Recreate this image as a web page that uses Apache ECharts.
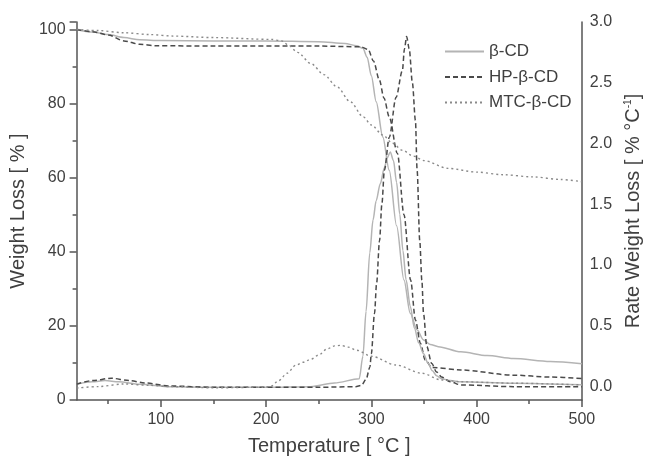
<!DOCTYPE html>
<html><head><meta charset="utf-8">
<script src="https://cdn.jsdelivr.net/npm/echarts@6/dist/echarts.min.js"></script>
<style>html,body{margin:0;padding:0;background:#fff}#c{width:651px;height:462px}</style>
</head><body><div id="c"></div>
<script>
const seriesNames = ['β-CD', 'HP-β-CD', 'MTC-β-CD'];
const xTicks = [100, 200, 300, 400, 500];
const xMinorTicks = [50, 150, 250, 350, 450];
const rightTicks = [0, 0.5, 1, 1.5, 2, 2.5, 3];

// Weight loss (TGA), left axis [%]
const bcdTGA = [[20,100],[35,99.3],[50,98.6],[65,97.8],[80,97.2],[100,97.0],[150,96.9],[200,96.9],[250,96.7],[275,96.2],[286,95.6],[292,94.9],[296,92.5],[300,87.5],[304.6,80.5],[310.9,71],[317,62],[324,47],[331,32.4],[337,23.4],[343.5,18.9],[349.6,16.2],[356,15],[363.6,14.4],[385,13],[410,12],[435,11.2],[470,10.4],[500,9.8]];
const hpTGA = [[20,100],[35,99.4],[50,98.5],[65,96.9],[80,96],[95,95.6],[150,95.5],[250,95.5],[290,95.3],[297,94.6],[302,91.5],[307.7,86.3],[312,81.5],[317,76.4],[324.8,66.5],[331,50],[337.3,32.4],[341.9,21.6],[346.6,15.3],[351.2,10.8],[357.4,8.8],[385,8.1],[435,6.7],[470,6.2],[500,5.8]];
const mtcTGA = [[20,100],[40,99.7],[65,99.1],[90,98.6],[112,98.2],[150,97.8],[205,97.3],[215,96.9],[221,95.8],[230,93.8],[242.5,90.8],[255,87.8],[267.4,84.5],[280,80.5],[292.3,76.4],[300,74.2],[310.9,71.5],[320,69.3],[329.5,67.4],[340,65.8],[350,64.6],[372.9,62.5],[400,61.5],[425,60.8],[453.5,60.2],[480,59.5],[500,58.9]];

// Rate of weight loss (DTG), right axis [% °C-1]
const bcdDTG = [[20,0.02],[35,0.04],[47,0.05],[60,0.04],[80,0.02],[109,0.0],[150,-0.005],[200,-0.005],[242.5,0.0],[265,0.03],[288.5,0.065],[292,0.25],[295,0.62],[298.5,1.1],[301.6,1.37],[304.6,1.53],[308.5,1.67],[312.4,1.8],[315,1.88],[318,1.93],[321,1.86],[324,1.68],[327,1.42],[330,1.12],[333,0.88],[337,0.66],[341,0.48],[345,0.36],[349.6,0.27],[354,0.19],[358,0.13],[362,0.09],[366.7,0.065],[375,0.05],[385,0.04],[435,0.028],[500,0.015]];
const hpDTG = [[20,0.02],[35,0.05],[53,0.069],[70,0.05],[85,0.03],[109,0.005],[150,-0.005],[250,-0.005],[285,0.0],[290.6,0.01],[295,0.06],[298.6,0.16],[300,0.27],[303,0.6],[305,0.85],[307.8,1.2],[310,1.5],[312.4,1.78],[317,2.05],[323.5,2.38],[329.5,2.6],[331.5,2.78],[333.5,2.88],[336,2.78],[339,2.5],[341.9,2.19],[343.5,1.78],[346,1.2],[348,0.876],[349.6,0.6],[352.7,0.33],[357.4,0.19],[362,0.12],[366.7,0.08],[375,0.04],[385,0.014],[435,0.0],[500,0.0]];
const mtcDTG = [[20,-0.012],[40,0.0],[65,0.022],[90,0.01],[110,0.0],[150,-0.01],[199,-0.005],[205,0.005],[212,0.05],[220,0.11],[228,0.175],[235,0.2],[242.5,0.225],[250,0.26],[258,0.31],[265,0.335],[271,0.34],[278,0.325],[286,0.3],[300,0.25],[323.3,0.178],[348,0.11],[366.7,0.055],[385.4,0.04],[435,0.028],[500,0.014]];

const FONT = '"Liberation Sans", Arial, sans-serif';
const TXT = '#404040';
const AX = '#555555';
const styles = [
  {color:'#b4b4b4', width:1.5, type:'solid'},
  {color:'#4a4a4a', width:1.5, type:[5,3]},
  {color:'#8a8a8a', width:1.4, type:[2,3]}
];
function mk(name, data, idx, yAxisIndex){
  return {name, type:'line', data, yAxisIndex, xAxisIndex:0, symbol:'none', showSymbol:false,
    smooth:0.3, smoothMonotone:'x', lineStyle:Object.assign({}, styles[idx]), itemStyle:{color:styles[idx].color},
    emphasis:{disabled:true}, z:3};
}
const chart = echarts.init(document.getElementById('c'), null, {renderer:'canvas'});
chart.setOption({
  animation:false,
  backgroundColor:'#ffffff',
  textStyle:{fontFamily:FONT},
  grid:{left:73, right:62, top:22, bottom:62, containLabel:false},
  legend:{orient:'vertical', left:439, top:38, itemWidth:39, itemHeight:14, itemGap:8.5,
    data:seriesNames, itemStyle:{opacity:0}, textStyle:{fontFamily:FONT, fontSize:17, color:TXT}, selectedMode:false},
  xAxis:[
    {type:'value', min:20, max:500, position:'bottom',
      axisLine:{onZero:false, lineStyle:{color:AX, width:1.5}},
      axisTick:{show:true, customValues:xTicks, length:7, lineStyle:{color:AX, width:1.5}},
      axisLabel:{customValues:xTicks, margin:12, fontFamily:FONT, fontSize:16, color:TXT},
      splitLine:{show:false},
      name:'Temperature [ °C ]', nameLocation:'middle', nameGap:36,
      nameTextStyle:{fontFamily:FONT, fontSize:20, color:TXT}},
    {type:'value', min:20, max:500, position:'bottom',
      axisLine:{show:false, onZero:false},
      axisTick:{show:true, customValues:xMinorTicks, length:4, lineStyle:{color:AX, width:1.5}},
      axisLabel:{show:false}, splitLine:{show:false}}
  ],
  yAxis:[
    {type:'value', min:0, max:102, interval:20, position:'left',
      axisLine:{show:true, onZero:false, lineStyle:{color:AX, width:1.5}},
      axisTick:{show:true, length:7, lineStyle:{color:AX, width:1.5}},
      minorTick:{show:true, splitNumber:2, length:4, lineStyle:{color:AX, width:1.5}},
      axisLabel:{margin:11, fontFamily:FONT, fontSize:16, color:TXT},
      splitLine:{show:false},
      name:'Weight Loss [ % ]', nameLocation:'middle', nameGap:40,
      nameTextStyle:{fontFamily:FONT, fontSize:20, color:TXT}},
    {type:'value', min:-0.11, max:3.0, position:'right',
      axisLine:{show:true, onZero:false, lineStyle:{color:AX, width:1.5}},
      axisTick:{show:false},
      axisLabel:{customValues:rightTicks, margin:8, fontFamily:FONT, fontSize:16, color:TXT,
        formatter:v=>Number(v).toFixed(1)},
      splitLine:{show:false},
      name:'Rate Weight Loss [ % °C{sup|-1}]', nameLocation:'middle', nameGap:40, nameRotate:90,
      nameTextStyle:{fontFamily:FONT, fontSize:20, color:TXT,
        rich:{sup:{fontFamily:FONT, fontSize:10, color:TXT, verticalAlign:'top', lineHeight:20}}}}
  ],
  series:[
    mk(seriesNames[0], bcdTGA, 0, 0),
    mk(seriesNames[1], hpTGA, 1, 0),
    mk(seriesNames[2], mtcTGA, 2, 0),
    mk(seriesNames[0], bcdDTG, 0, 1),
    mk(seriesNames[1], hpDTG, 1, 1),
    mk(seriesNames[2], mtcDTG, 2, 1)
  ]
});
</script></body></html>
